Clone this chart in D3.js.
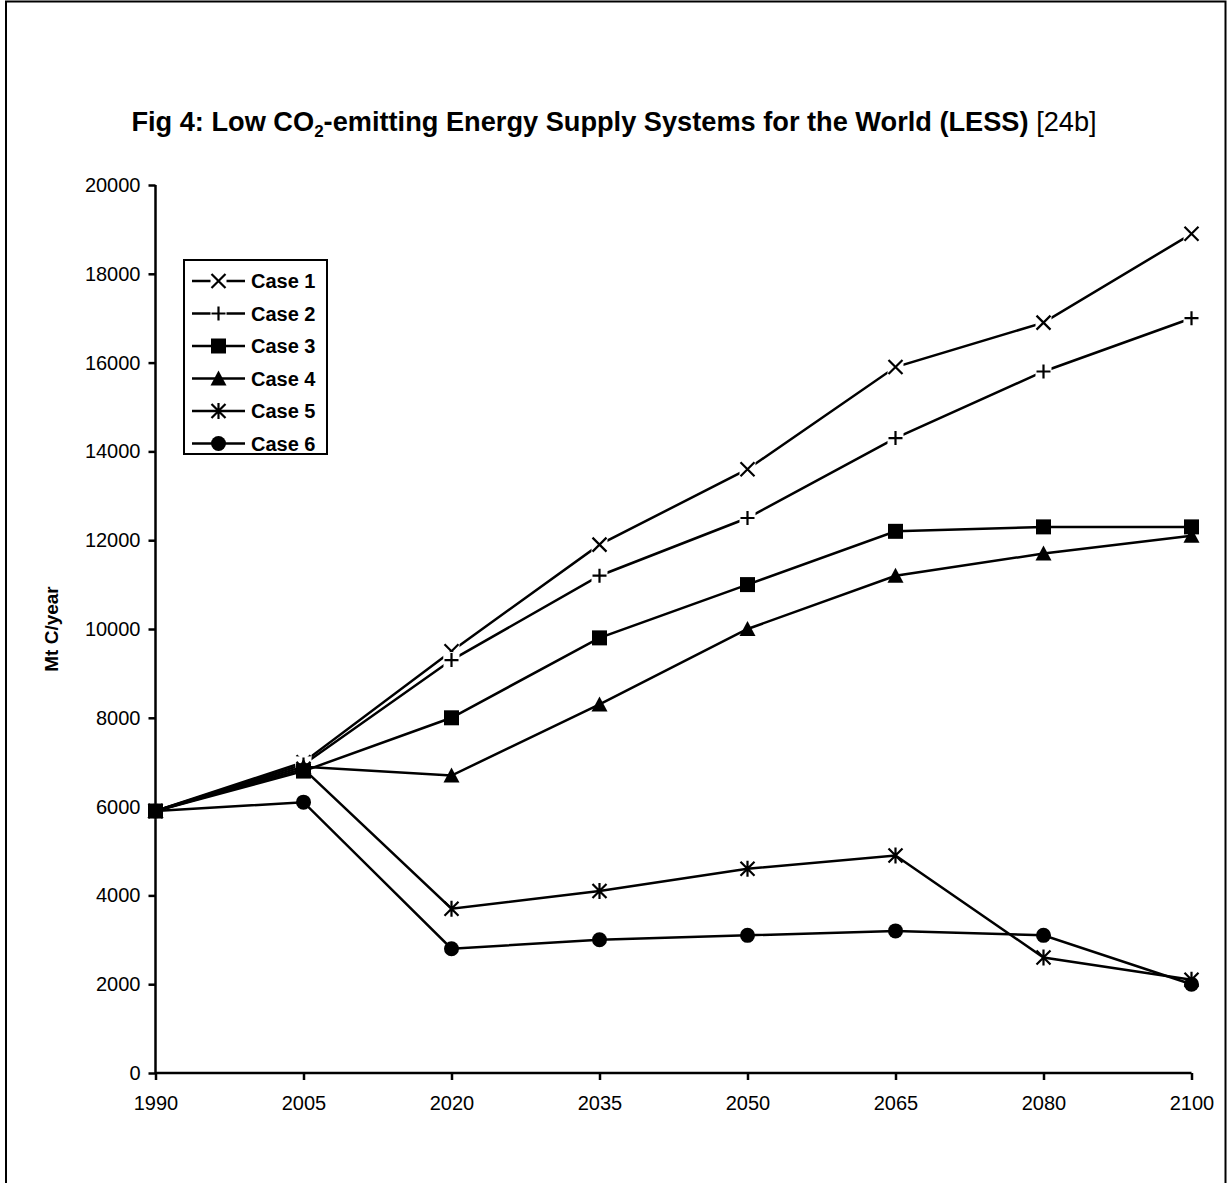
<!DOCTYPE html>
<html>
<head>
<meta charset="utf-8">
<script src="https://cdn.jsdelivr.net/npm/d3@7/dist/d3.min.js"></script>
<style>
  html, body { margin: 0; padding: 0; background: #fff; }
  svg { display: block; font-family: Arial, "Liberation Sans", sans-serif; }
</style>
</head>
<body>
<svg id="chart" width="1229" height="1183"></svg>
<script>
const years = ["1990", "2005", "2020", "2035", "2050", "2065", "2080", "2100"];
const seriesNames = ["Case 1", "Case 2", "Case 3", "Case 4", "Case 5", "Case 6"];
const case1 = [5900, 7000, 9500, 11900, 13600, 15900, 16900, 18900];
const case2 = [5900, 6950, 9300, 11200, 12500, 14300, 15800, 17000];
const case3 = [5900, 6800, 8000, 9800, 11000, 12200, 12300, 12300];
const case4 = [5900, 6900, 6700, 8300, 10000, 11200, 11700, 12100];
const case5 = [5900, 6850, 3700, 4100, 4600, 4900, 2600, 2100];
const case6 = [5900, 6100, 2800, 3000, 3100, 3200, 3100, 2000];
const markerTypes = ["x", "plus", "square", "triangle", "star", "circle"];
const yTicks = [0, 2000, 4000, 6000, 8000, 10000, 12000, 14000, 16000, 18000, 20000];

const allSeries = [case1, case2, case3, case4, case5, case6];
const drawOrder = [0, 1, 3, 4, 5, 2];

const svg = d3.select("#chart");
const FONT = "Arial, 'Liberation Sans', sans-serif";

// outer frame
svg.append("rect").attr("x", 6).attr("y", 1.5).attr("width", 1219.5).attr("height", 1230)
  .attr("fill", "none").attr("stroke", "#000").attr("stroke-width", 2);

const x = d3.scalePoint().domain(years).range([155.5, 1191.5]);
const y = d3.scaleLinear().domain([0, 20000]).range([1073, 185]);

// title
const title = svg.append("text").attr("x", 614).attr("y", 131).attr("text-anchor", "middle")
  .attr("font-size", 27.2).attr("fill", "#000");
title.append("tspan").attr("font-weight", "bold").text("Fig 4: Low CO");
title.append("tspan").attr("font-weight", "bold").attr("font-size", 17).attr("dy", 6).text("2");
title.append("tspan").attr("font-weight", "bold").attr("dy", -6).text("-emitting Energy Supply Systems for the World (LESS) ");
title.append("tspan").attr("font-weight", "normal").text("[24b]");

// axes
const yAxis = d3.axisLeft(y).tickValues(yTicks).tickSize(7).tickPadding(8).tickFormat(d3.format("d"));
const gy = svg.append("g").attr("transform", `translate(${x("1990")},0)`).call(yAxis);
gy.select(".domain").attr("stroke-width", 2.5).attr("d", `M0,${y(20000)}V${y(0)}`);
gy.selectAll(".tick line").attr("stroke-width", 2.5);
gy.selectAll(".tick text").attr("font-size", 20).attr("font-family", FONT).attr("fill", "#000");

const xAxis = d3.axisBottom(x).tickSize(7).tickPadding(16);
const gx = svg.append("g").attr("transform", `translate(0,${y(0)})`).call(xAxis);
gx.select(".domain").attr("stroke-width", 2.5).attr("d", `M${x("1990")},0H${x("2100")}`);
gx.selectAll(".tick line").attr("stroke-width", 2.5);
gx.selectAll(".tick text").attr("font-size", 20).attr("font-family", FONT).attr("fill", "#000");

// y label
svg.append("text").attr("transform", `translate(58,${(y(0) + y(20000)) / 2}) rotate(-90)`)
  .attr("text-anchor", "middle").attr("font-size", 19).attr("font-weight", "bold").text("Mt C/year");

function drawMarker(g, type, cx, cy) {
  const s = 7;
  if (type === "x") {
    g.append("rect").attr("x", cx - 8).attr("y", cy - 8).attr("width", 16).attr("height", 16).attr("fill", "#fff");
    g.append("path").attr("d", `M${cx - s},${cy - s}L${cx + s},${cy + s}M${cx - s},${cy + s}L${cx + s},${cy - s}`)
      .attr("stroke", "#000").attr("stroke-width", 2.2).attr("fill", "none");
  } else if (type === "plus") {
    g.append("rect").attr("x", cx - 8).attr("y", cy - 8).attr("width", 16).attr("height", 16).attr("fill", "#fff");
    g.append("path").attr("d", `M${cx - s},${cy}L${cx + s},${cy}M${cx},${cy - s}L${cx},${cy + s}`)
      .attr("stroke", "#000").attr("stroke-width", 2.2).attr("fill", "none");
  } else if (type === "square") {
    g.append("path").attr("transform", `translate(${cx},${cy})`)
      .attr("d", d3.symbol(d3.symbolSquare, 225)()).attr("fill", "#000");
  } else if (type === "triangle") {
    g.append("path").attr("transform", `translate(${cx},${cy})`)
      .attr("d", `M0,-8L8,7L-8,7Z`).attr("fill", "#000");
  } else if (type === "star") {
    g.append("path").attr("d", `M${cx - s},${cy - s}L${cx + s},${cy + s}M${cx - s},${cy + s}L${cx + s},${cy - s}M${cx},${cy - 8}L${cx},${cy + 8}`)
      .attr("stroke", "#000").attr("stroke-width", 2.2).attr("fill", "none");
  } else if (type === "circle") {
    g.append("circle").attr("cx", cx).attr("cy", cy).attr("r", 7.5).attr("fill", "#000");
  }
}

const line = d3.line().x((d, i) => x(years[i])).y(d => y(d));

drawOrder.forEach(k => {
  const g = svg.append("g");
  g.append("path").datum(allSeries[k]).attr("d", line).attr("fill", "none")
    .attr("stroke", "#000").attr("stroke-width", 2.5);
  allSeries[k].forEach((v, i) => drawMarker(g, markerTypes[k], x(years[i]), y(v)));
});

// legend
const lg = svg.append("g");
lg.append("rect").attr("x", 184).attr("y", 260).attr("width", 143).attr("height", 194)
  .attr("fill", "#fff").attr("stroke", "#000").attr("stroke-width", 2);
seriesNames.forEach((name, k) => {
  const cy = 281 + k * 32.5;
  lg.append("line").attr("x1", 192).attr("x2", 245).attr("y1", cy).attr("y2", cy)
    .attr("stroke", "#000").attr("stroke-width", 2.5);
  drawMarker(lg, markerTypes[k], 218.5, cy);
  lg.append("text").attr("x", 251).attr("y", cy).attr("dy", "0.36em")
    .attr("font-size", 20).attr("font-weight", "bold").text(name);
});
</script>
</body>
</html>
